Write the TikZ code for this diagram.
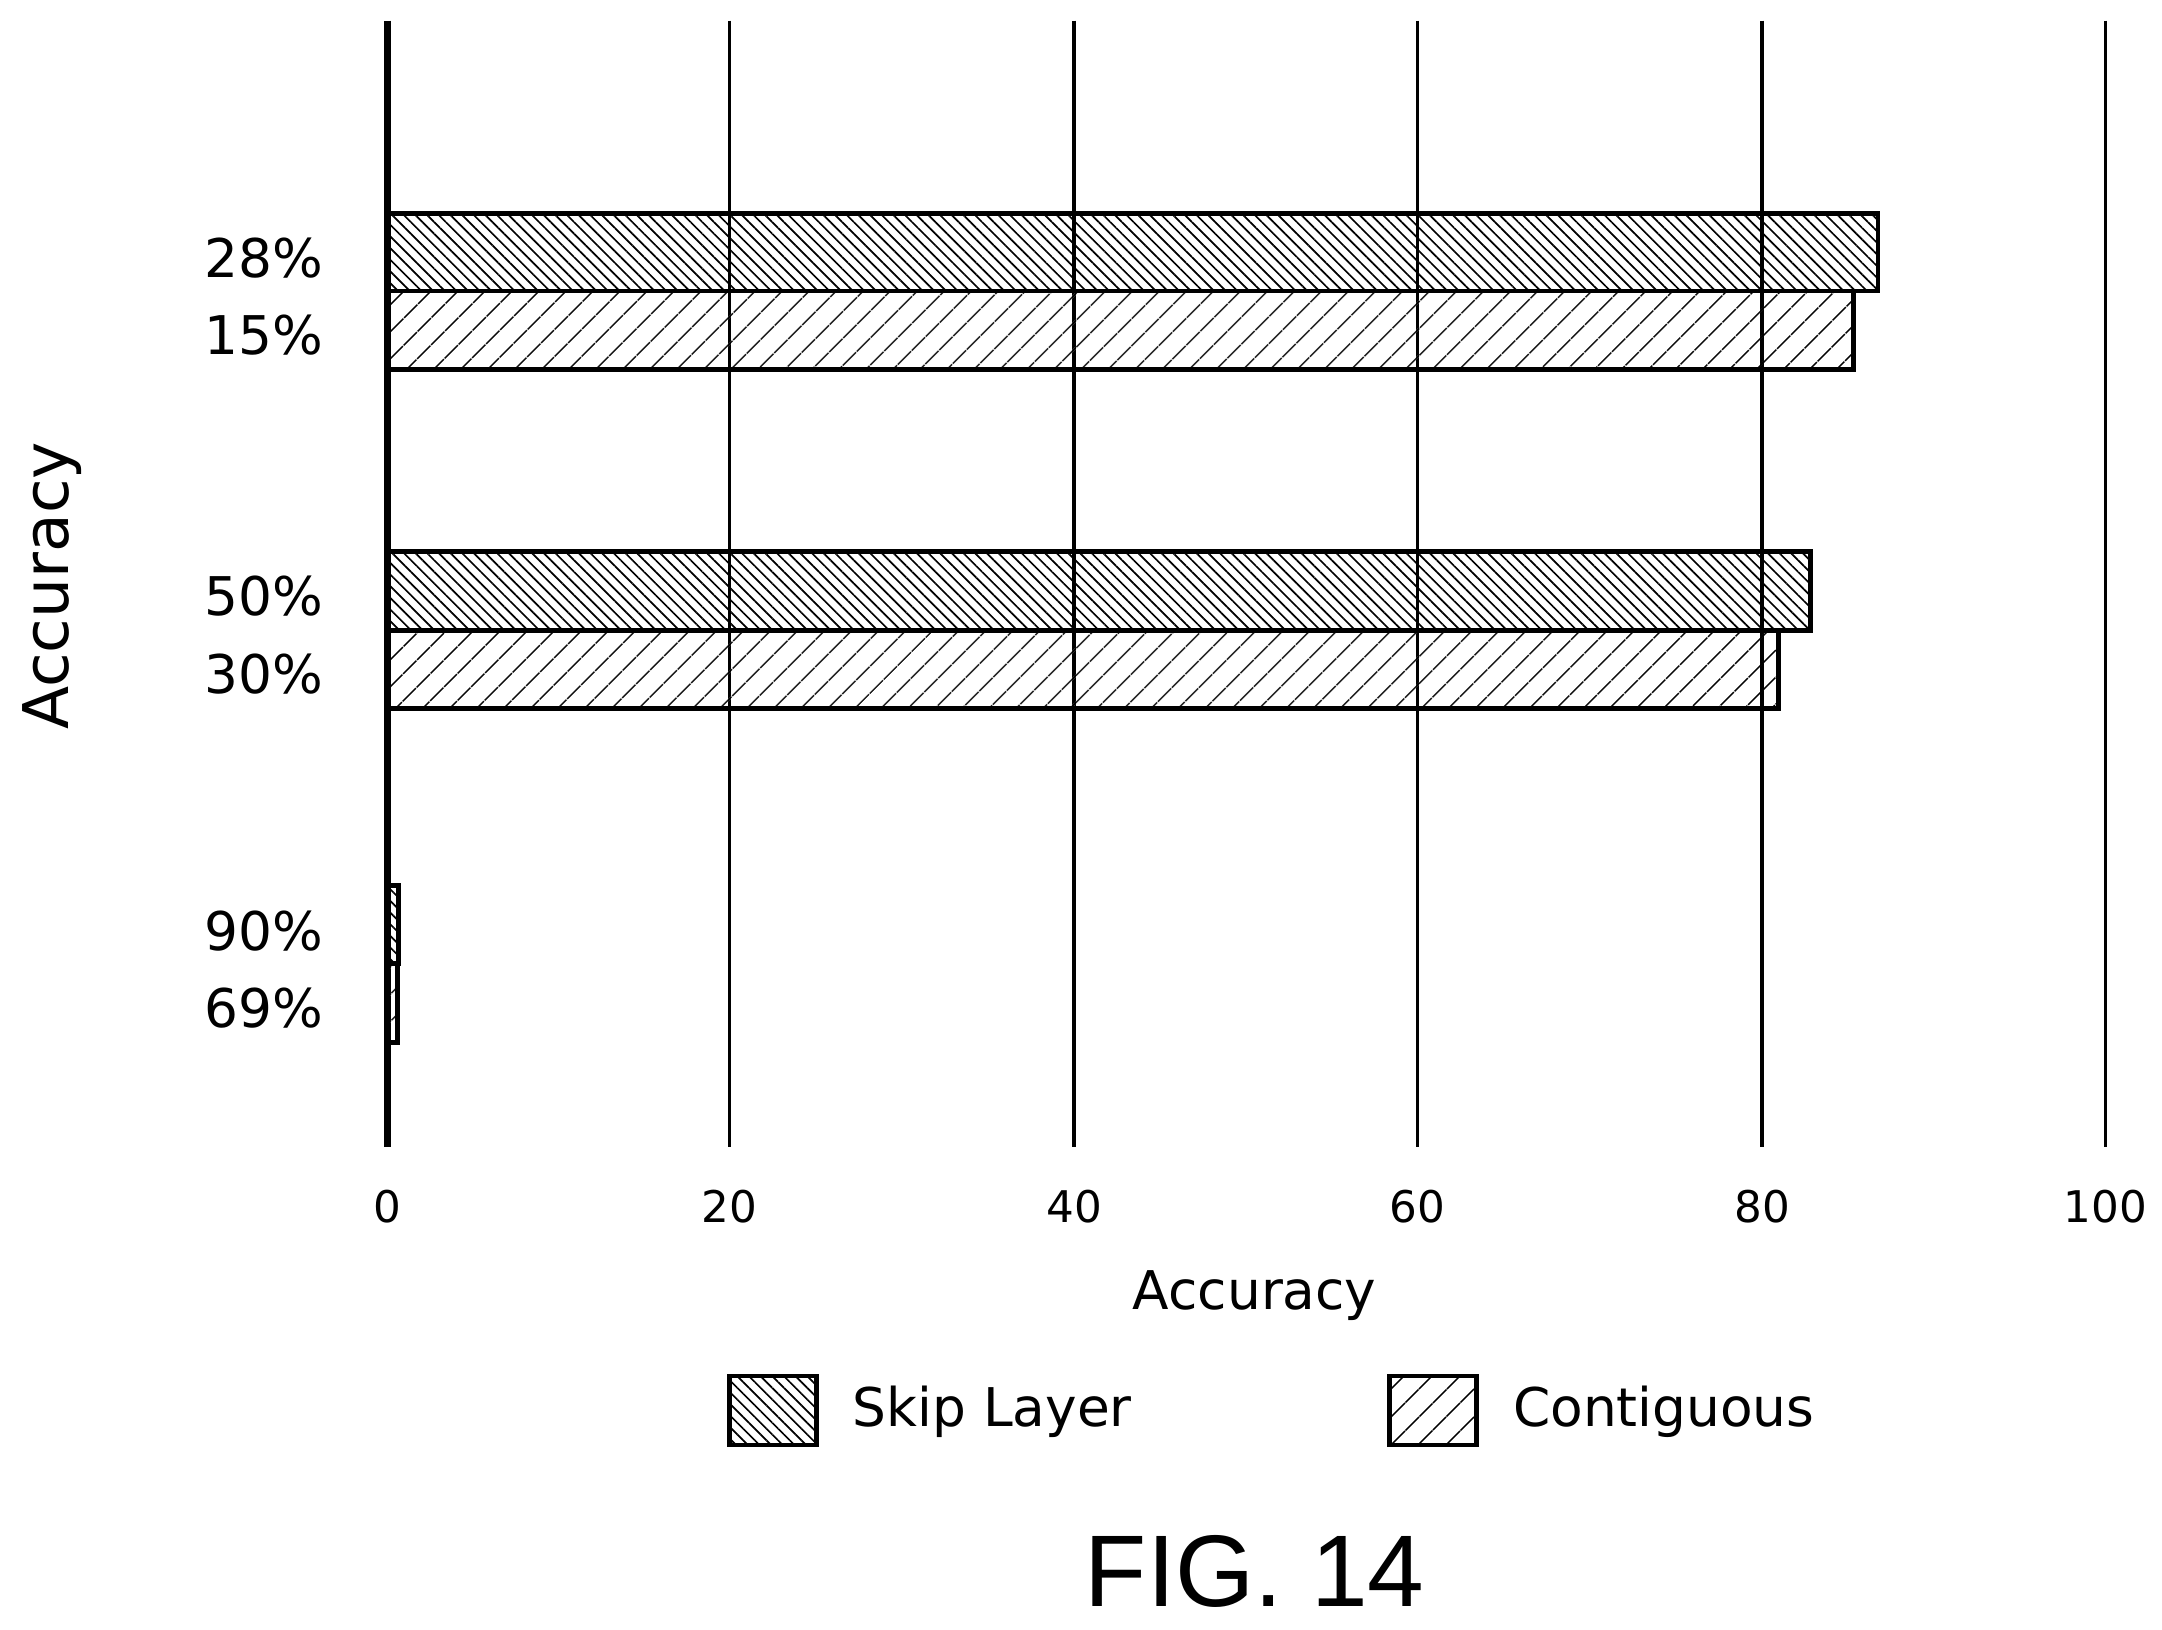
\documentclass[tikz,border=0pt]{standalone}
\usepackage{fontspec}
\setmainfont{DejaVu Sans}
\newfontfamily\figfont{Liberation Sans}
\usetikzlibrary{patterns.meta}
\begin{document}
\begin{tikzpicture}[x=0.01cm,y=-0.01cm,
  skipbar/.style={draw=black,line width=1pt,pattern={Lines[angle=-45,distance=1.7pt,line width=0.35pt]}},
  contbar/.style={draw=black,line width=1pt,pattern={Lines[angle=45,distance=4pt,line width=0.35pt]}},
  grid line/.style={line width=0.7pt},
  pct/.style={anchor=east,font=\fontsize{11}{13}\selectfont},
  tick/.style={font=\fontsize{9}{11}\selectfont}]
\useasboundingbox (0,0) rectangle (1568,1182);
\foreach \x/\l in {529/20,779/40,1028/60,1278/80,1527/100}{
  \draw[grid line] (\x,15) -- (\x,832);
  \node[tick] (t\l) at (\x,875) {\l};}
\node[tick] (t0) at (281,875) {0};
\draw[line width=1.3pt] (281,15) -- (281,832);
\draw[skipbar] (281,155) rectangle (1362,211);
\draw[contbar] (281,211) rectangle (1344,268);
\draw[skipbar] (281,400) rectangle (1313,457);
\draw[contbar] (281,457) rectangle (1290,514);
\draw[skipbar] (281,642) rectangle (289,699);
\draw[contbar] (281,699) rectangle (288,756);
\node[pct] (p28) at (247,187) {28\%};
\node[pct] (p15) at (247,243) {15\%};
\node[pct] (p50) at (247,432) {50\%};
\node[pct] (p30) at (247,489) {30\%};
\node[pct] (p90) at (247,675) {90\%};
\node[pct] (p69) at (247,731) {69\%};
\node[font=\fontsize{11}{13}\selectfont] (xt) at (910,940) {Accuracy};
\node[font=\fontsize{13}{15}\selectfont,rotate=90] (yt) at (38,425) {Accuracy};
\draw[skipbar] (529,998) rectangle (592,1048);
\draw[contbar] (1008,998) rectangle (1071,1048);
\node[anchor=west,font=\fontsize{11}{13}\selectfont] (l1) at (606,1024) {Skip Layer};
\node[anchor=west,font=\fontsize{11}{13}\selectfont] (l2) at (1085,1024) {Contiguous};
\node[font=\figfont\fontsize{21}{24}\selectfont] (fig) at (910,1140) {FIG. 14};
\end{tikzpicture}
\end{document}
